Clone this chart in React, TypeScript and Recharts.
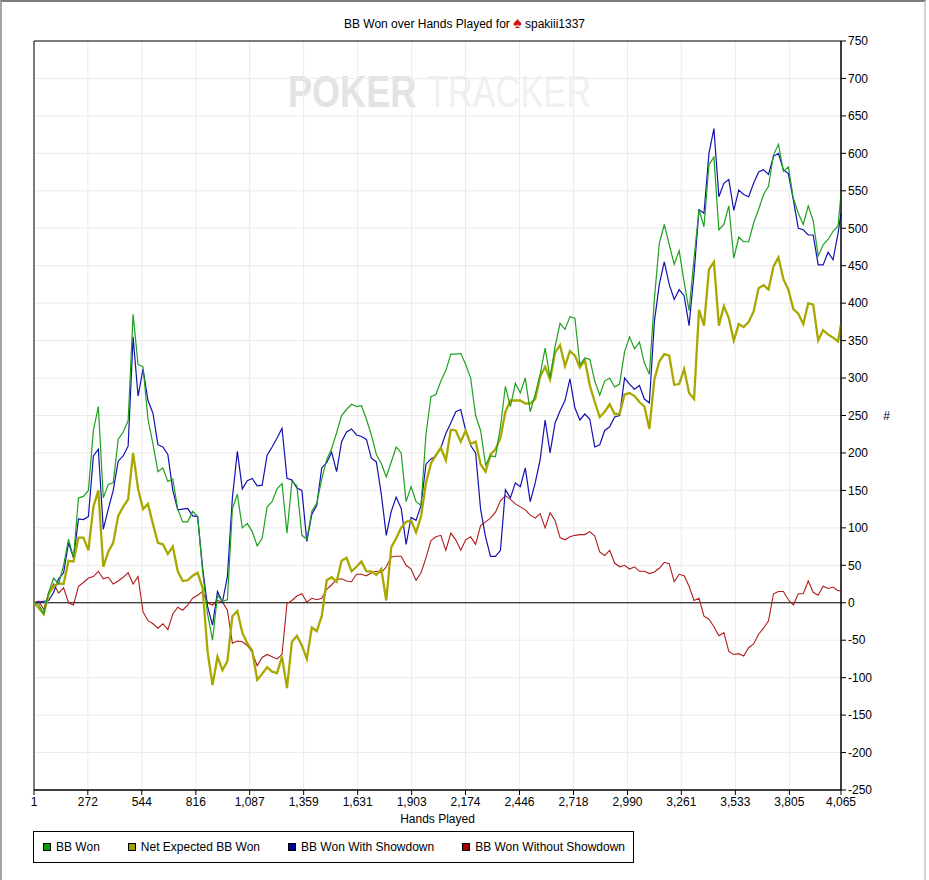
import React from 'react';
import {
  LineChart,
  Line,
  XAxis,
  YAxis,
  CartesianGrid,
  ReferenceLine,
  ReferenceArea,
} from 'recharts';

// hands played (x values), one sample every 25 hands
const HANDS = [
  1, 25, 50, 75, 100, 125, 150, 175, 200, 225, 250, 275, 300, 325, 350, 375, 400, 425, 450, 475,
  500, 525, 550, 575, 600, 625, 650, 675, 700, 725, 750, 775, 800, 825, 850, 875, 900, 925, 950, 975,
  1000, 1025, 1050, 1075, 1100, 1125, 1150, 1175, 1200, 1225, 1250, 1275, 1300, 1325, 1350, 1375, 1400, 1425, 1450, 1475,
  1500, 1525, 1550, 1575, 1600, 1625, 1650, 1675, 1700, 1725, 1750, 1775, 1800, 1825, 1850, 1875, 1900, 1925, 1950, 1975,
  2000, 2025, 2050, 2075, 2100, 2125, 2150, 2175, 2200, 2225, 2250, 2275, 2300, 2325, 2350, 2375, 2400, 2425, 2450, 2475,
  2500, 2525, 2550, 2575, 2600, 2625, 2650, 2675, 2700, 2725, 2750, 2775, 2800, 2825, 2850, 2875, 2900, 2925, 2950, 2975,
  3000, 3025, 3050, 3075, 3100, 3125, 3150, 3175, 3200, 3225, 3250, 3275, 3300, 3325, 3350, 3375, 3400, 3425, 3450, 3475,
  3500, 3525, 3550, 3575, 3600, 3625, 3650, 3675, 3700, 3725, 3750, 3775, 3800, 3825, 3850, 3875, 3900, 3925, 3950, 3975,
  4000, 4025, 4050, 4065,
];

const BB_WON = [
  0, -2, -15, 14, 33, 25, 50, 85, 60, 140, 142, 150, 230, 262, 140, 158, 160, 218, 228, 243,
  385, 318, 315, 245, 212, 175, 180, 162, 165, 125, 108, 108, 122, 115, 42, -15, -50, 10, 2, 4,
  125, 145, 100, 106, 95, 76, 86, 128, 135, 152, 159, 93, 162, 156, 90, 85, 122, 133, 165, 191,
  206, 227, 250, 258, 265, 262, 263, 245, 224, 198, 186, 168, 188, 208, 200, 135, 155, 135, 130, 225,
  275, 278, 296, 310, 332, 332, 333, 318, 300, 250, 230, 184, 196, 195, 235, 289, 262, 293, 280, 300,
  255, 278, 305, 340, 300, 342, 373, 365, 382, 380, 318, 327, 325, 296, 277, 296, 300, 288, 292, 335,
  355, 339, 348, 320, 305, 405, 480, 505, 478, 452, 470, 428, 390, 460, 525, 502, 585, 595, 498, 505,
  530, 460, 488, 482, 482, 507, 525, 545, 556, 598, 612, 576, 582, 540, 520, 505, 530, 510, 463, 478,
  485, 496, 503, 545,
];

const NET_EXPECTED = [
  0, -7, -15, 12, 22, 26, 25, 56, 55, 87, 87, 70, 128, 150, 48, 68, 80, 116, 128, 138,
  200, 152, 125, 132, 105, 80, 78, 65, 75, 42, 29, 30, 36, 40, 20, -65, -110, -72, -90, -78,
  -18, -11, -40, -54, -64, -103, -95, -86, -92, -94, -72, -114, -52, -44, -57, -75, -33, -38, -18, 30,
  34, 28, 56, 60, 42, 48, 55, 42, 42, 37, 45, 3, 74, 86, 100, 108, 110, 94, 115, 160,
  186, 197, 207, 190, 231, 230, 215, 230, 212, 215, 185, 175, 198, 205, 220, 255, 270, 270, 270, 266,
  266, 272, 302, 315, 298, 334, 344, 316, 336, 330, 314, 324, 290, 268, 248, 255, 265, 252, 252, 278,
  280, 276, 268, 262, 232, 298, 322, 332, 330, 291, 292, 312, 280, 272, 391, 370, 445, 455, 370, 396,
  380, 350, 372, 368, 375, 389, 420, 424, 418, 449, 461, 432, 418, 392, 386, 372, 400, 398, 350, 364,
  358, 354, 349, 372,
];

const WITH_SHOWDOWN = [
  0, 1, 2, 3, 14, 32, 40, 80, 60, 112, 111, 115, 196, 205, 98, 125, 150, 189, 196, 209,
  355, 276, 312, 270, 253, 211, 208, 198, 150, 124, 125, 126, 116, 115, 47, -5, -30, 15, 1, 35,
  140, 202, 152, 163, 166, 156, 157, 197, 208, 220, 233, 166, 164, 153, 150, 82, 118, 130, 180, 187,
  201, 175, 215, 228, 232, 224, 222, 218, 193, 188, 145, 90, 122, 141, 126, 78, 114, 110, 130, 185,
  192, 196, 207, 226, 240, 255, 258, 230, 210, 200, 125, 88, 62, 62, 70, 151, 140, 160, 155, 180,
  135, 160, 191, 244, 200, 240, 256, 270, 299, 260, 244, 252, 245, 208, 211, 230, 235, 248, 250, 300,
  292, 285, 290, 272, 267, 375, 425, 455, 425, 405, 418, 410, 370, 440, 525, 520, 600, 633, 542, 560,
  565, 524, 551, 545, 542, 560, 575, 578, 572, 596, 600, 578, 573, 538, 500, 498, 491, 491, 451, 451,
  468, 458, 493, 520,
];

const WITHOUT_SHOWDOWN = [
  0, 2, -9, 12, 25, 13, 20, 0, -3, 22, 27, 33, 35, 42, 32, 34, 25, 29, 34, 40,
  25, 35, -12, -24, -28, -34, -28, -36, -15, -6, -10, -3, 6, 10, 15, 0, -3, 3, 1, -10,
  -54, -51, -52, -57, -66, -84, -73, -69, -72, -75, -69, -1, 3, 9, 12, 1, 6, 4, 6, 18,
  24, 31, 32, 29, 28, 38, 38, 36, 40, 42, 40, 48, 61, 62, 62, 50, 45, 30, 40, 60,
  83, 88, 90, 70, 93, 84, 70, 84, 88, 78, 103, 108, 113, 121, 136, 143, 138, 132, 128, 124,
  117, 113, 119, 100, 120, 110, 87, 84, 88, 90, 91, 91, 95, 89, 68, 63, 70, 53, 48, 50,
  45, 48, 42, 42, 39, 41, 46, 54, 52, 28, 38, 36, 22, 3, 6, -18, -22, -32, -44, -40,
  -65, -69, -68, -71, -60, -55, -42, -34, -24, 12, 15, 15, 4, -3, 12, 12, 29, 14, 10, 22,
  19, 21, 16, 16,
];

const X_TICKS = [1, 272, 544, 816, 1087, 1359, 1631, 1903, 2174, 2446, 2718, 2990, 3261, 3533, 3805, 4065];
const Y_TICKS = [-250, -200, -150, -100, -50, 0, 50, 100, 150, 200, 250, 300, 350, 400, 450, 500, 550, 600, 650, 700, 750];

const SERIES = [
  { key: 'bbWon', name: 'BB Won', color: '#1fa01f', swatch: '#00a000', width: 1.2 },
  { key: 'netExpected', name: 'Net Expected BB Won', color: '#a8a800', swatch: '#a0a000', width: 2.3 },
  { key: 'withShowdown', name: 'BB Won With Showdown', color: '#1212b0', swatch: '#0000a0', width: 1.2 },
  { key: 'withoutShowdown', name: 'BB Won Without Showdown', color: '#b01c1c', swatch: '#a00000', width: 1.1 },
];

const rows = HANDS.map((hand, i) => ({
  hand,
  bbWon: BB_WON[i],
  netExpected: NET_EXPECTED[i],
  withShowdown: WITH_SHOWDOWN[i],
  withoutShowdown: WITHOUT_SHOWDOWN[i],
}));

const FONT = '"Liberation Sans", Arial, sans-serif';

// faint logo behind the plot, squeezed horizontally like the original
const Watermark = () => (
  <svg width={929} height={880} style={{ position: 'absolute', left: 0, top: 0 }}>
    <g transform="translate(288,107) scale(0.82,1)">
      <text x={0} y={0} fontSize={44} fontWeight="bold" fontFamily={FONT} fill="#e3e3e3">POKER</text>
    </g>
    <g transform="translate(427,107) scale(0.78,1)">
      <text x={0} y={0} fontSize={44} fontFamily={FONT} fill="#f0f0f0">TRACKER</text>
    </g>
  </svg>
);

const LegendBox = () => (
  <div
    style={{
      position: 'absolute', left: 33, top: 831, width: 601, height: 32, boxSizing: 'border-box',
      border: '1px solid #000', display: 'flex', alignItems: 'center', paddingLeft: 9, gap: 28,
      fontFamily: FONT, fontSize: 12, color: '#000', background: '#fff',
    }}
  >
    {SERIES.map((s) => (
      <div key={s.key} style={{ display: 'flex', alignItems: 'center' }}>
        <span style={{ width: 6, height: 6, border: '1px solid #000', background: s.swatch, marginRight: 5 }} />
        <span>{s.name}</span>
      </div>
    ))}
  </div>
);

export default function App() {
  // drawn back to front, so BB Won ends up on top
  const drawOrder = [...SERIES].reverse();
  return (
    <div style={{ position: 'absolute', left: 0, top: 0, width: 929, height: 880, background: '#fff', overflow: 'hidden' }}>
      <div
        style={{
          position: 'absolute', left: 0, top: 0, width: 926, height: 880, boxSizing: 'border-box',
          borderTop: '2px solid #7c7c7c', borderLeft: '2px solid #a4a4a4', borderRight: '2px solid #d2d2d2',
        }}
      />
      <Watermark />
      <div
        style={{
          position: 'absolute', left: 0, top: 15, width: 929, textAlign: 'center',
          fontFamily: FONT, fontSize: 12, color: '#000', lineHeight: '16px',
        }}
      >
        BB Won over Hands Played for <span style={{ color: '#d41414', fontSize: 16 }}>♠</span> spakiii1337
      </div>
      <div style={{ position: 'absolute', left: 0, top: 0 }}>
        <LineChart
          width={929}
          height={880}
          data={rows}
          margin={{ top: 41, right: 40, bottom: 68, left: 34 }}
          style={{ fontFamily: FONT }}
        >
          <CartesianGrid stroke="#ebebeb" strokeWidth={1} />
          <XAxis
            type="number"
            dataKey="hand"
            domain={[1, 4065]}
            ticks={X_TICKS}
            interval={0}
            height={22}
            tickSize={5}
            tickMargin={2}
            tick={{ fill: '#000', fontSize: 12 }}
            stroke="#000"
            tickFormatter={(v: number) => v.toLocaleString('en-US')}
            label={{ value: 'Hands Played', position: 'bottom', offset: 2, fill: '#000', fontSize: 12 }}
          />
          <YAxis
            orientation="right"
            type="number"
            domain={[-250, 750]}
            ticks={Y_TICKS}
            interval={0}
            width={48}
            tickSize={5}
            tickMargin={2}
            tick={{ fill: '#000', fontSize: 12 }}
            stroke="#000"
            label={{ value: '#', position: 'insideRight', offset: -1, fill: '#000', fontSize: 12 }}
          />
          <ReferenceLine y={0} stroke="#000" strokeWidth={1} />
          {drawOrder.map((s) => (
            <Line
              key={s.key}
              type="linear"
              dataKey={s.key}
              name={s.name}
              stroke={s.color}
              strokeWidth={s.width}
              dot={false}
              activeDot={false}
              isAnimationActive={false}
            />
          ))}
          <ReferenceArea x1={1} x2={4065} y1={-250} y2={750} fill="none" stroke="#000" strokeWidth={1} />
        </LineChart>
      </div>
      <LegendBox />
    </div>
  );
}
